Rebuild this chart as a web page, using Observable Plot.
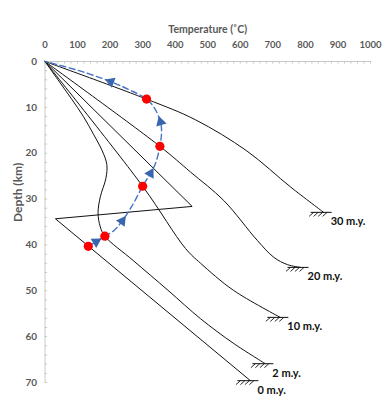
<!DOCTYPE html>
<html>
<head>
<meta charset="utf-8">
<script src="https://cdn.jsdelivr.net/npm/d3@7"></script>
<script src="https://cdn.jsdelivr.net/npm/@observablehq/plot@0.6"></script>
<style>
  html, body { margin: 0; padding: 0; background: #fff; }
  #chart svg { display: block; }
</style>
</head>
<body>
<div id="chart"></div>
<script>
// Tick values
const xTicks = d3.range(0, 1001, 100);
const yTicks = d3.range(0, 71, 10);
const xMinor = d3.range(0, 1001, 20);
const yMinor = d3.range(0, 71, 2);

// Geotherms: [temperature °C, depth km]
const my30 = [[0,0],[312,8.2],[462,12.7],[620,19.5],[755,27.4],[856,32.9]];
const my20 = [[0,0],[353,18.5],[447,24.1],[549,30.3],[652,39],[703,42.7],[745,44.3],[785,44.9]];
const my10 = [[0,0],[300,27.2],[432,40.8],[478,44],[579,49.9],[723,55.8]];
const my2  = [[0,0],[40,4],[80,8],[118,12],[150,16],[176,19.5],[190,22.5],[187,25.5],[170,29.5],[163,33],[170,36.1],[184,38.1],[271,43.4],[378,49.9],[478,56.1],[580,61.5],[677,65.9]];
const my0  = [[0,0],[452,31.6],[32,34.3],[631,69.6]];
const seriesLabels = ["30 m.y.", "20 m.y.", "10 m.y.", "2 m.y.", "0 m.y."];
const seriesData = [my30, my20, my10, my2, my0];
const seriesCurves = ["catmull-rom","catmull-rom","catmull-rom","catmull-rom","linear"];

// P-T path (red points) and dashed trajectory
const redPoints = [[312,8.2],[353,18.5],[300,27.2],[184,38.1],[133,40.3]];
const pathPts = [[133,40.3],[157,39.3],[184,38.1],[211,36.9],[237,34.8],[268,31.4],[300,27.2],[324,24.4],[339,22.3],[353,18.5],[358,15.5],[355,13.2],[335,10],[312,8.2],[260,6.2],[202,4.4],[100,1.9],[0,0]];
const arrowPts = [[157,39.3],[237,34.8],[324,24.4],[355,13.2],[202,4.4]];

const W = 389, H = 402;
const mL = 44.5, mR = 19, mT = 61, mB = 20;
const kx = (W - mL - mR) / 1000;
const ky = (H - mT - mB) / 70;

const toObj = a => ({T: a[0], D: a[1]});

const arrows = arrowPts.map(a => {
  const i = pathPts.findIndex(p => p[0] === a[0] && p[1] === a[1]);
  const prev = pathPts[i - 1], next = pathPts[i + 1];
  const dx = (next[0] - prev[0]) * kx, dy = (next[1] - prev[1]) * ky;
  return {T: a[0], D: a[1], angle: Math.atan2(dx, -dy) * 180 / Math.PI};
});

const ends = seriesData.map((s, i) => ({T: s[s.length-1][0], D: s[s.length-1][1], label: seriesLabels[i]}));
const hatchBars = ends.map(e => ({x1: e.T - 12.5/kx, x2: e.T + 8.5/kx, y: e.D}));
const hatchTicks = ends.flatMap(e => [-10, -5.5, -1, 3.5].map(o => ({
  x1: e.T + o/kx, y1: e.D, x2: e.T + (o - 4.5)/kx, y2: e.D + 4/ky
})));

const gray = "#595959";
const font = "Lato, 'Open Sans', sans-serif";

const chart = Plot.plot({
  width: W, height: H,
  marginLeft: mL, marginRight: mR, marginTop: mT, marginBottom: mB,
  style: {fontFamily: font, background: "#fff"},
  x: {domain: [0, 1000], axis: null},
  y: {domain: [0, 70], reverse: true, axis: null},
  marks: [
    // axis lines
    Plot.ruleY([0], {x1: 0, x2: 1000, stroke: "#c8c8c8", strokeWidth: 1}),
    Plot.ruleX([0], {y1: 0, y2: 70, stroke: "#c8c8c8", strokeWidth: 1}),
    // minor ticks
    Plot.ruleX(xMinor, {x: d => d, y1: 0, y2: 2.6/ky, stroke: "#c8c8c8"}),
    Plot.ruleY(yMinor, {y: d => d, x1: 0, x2: 2.6/kx, stroke: "#c8c8c8"}),
    // tick labels
    Plot.text(xTicks, {x: d => d, y: 0, dy: -16.5, text: d => String(d), fill: gray, fontSize: 9.5, fontWeight: "bold"}),
    Plot.text(yTicks, {x: 0, y: d => d, dx: -8, textAnchor: "end", text: d => String(d), fill: gray, fontSize: 10, fontWeight: "bold"}),
    // axis titles
    Plot.text(["Temperature (˚C)"], {frameAnchor: "top", dy: -36, fill: gray, fontSize: 10.5, fontWeight: "bold"}),
    Plot.text(["Depth (km)"], {frameAnchor: "left", dx: -26.5, rotate: -90, fill: gray, fontSize: 12, fontWeight: "bold"}),
    // geotherms
    ...seriesData.map((s, i) => Plot.line(s.map(toObj), {x: "T", y: "D", stroke: "#111", strokeWidth: 1, curve: seriesCurves[i]})),
    // hatch marks at the ends
    Plot.ruleY(hatchBars, {x1: "x1", x2: "x2", y: "y", stroke: "#111", strokeWidth: 1}),
    Plot.link(hatchTicks, {x1: "x1", y1: "y1", x2: "x2", y2: "y2", stroke: "#111", strokeWidth: 0.9}),
    // end labels
    Plot.text(ends, {x: "T", y: "D", text: "label", dx: 7, dy: 9.5, textAnchor: "start", fill: "#111", fontSize: 11, fontWeight: "bold"}),
    // dashed P-T path
    Plot.line(pathPts.map(toObj), {x: "T", y: "D", stroke: "#4472c4", strokeWidth: 1.4, strokeDasharray: "6,3.5", curve: "catmull-rom"}),
    // arrows
    Plot.dot(arrows, {x: "T", y: "D", symbol: "triangle", rotate: "angle", r: 4, fill: "#3a66b0", stroke: "none"}),
    // red points
    Plot.dot(redPoints.map(toObj), {x: "T", y: "D", r: 4.6, fill: "#ff0000", stroke: "none"})
  ]
});
document.getElementById("chart").appendChild(chart);
</script>
</body>
</html>
